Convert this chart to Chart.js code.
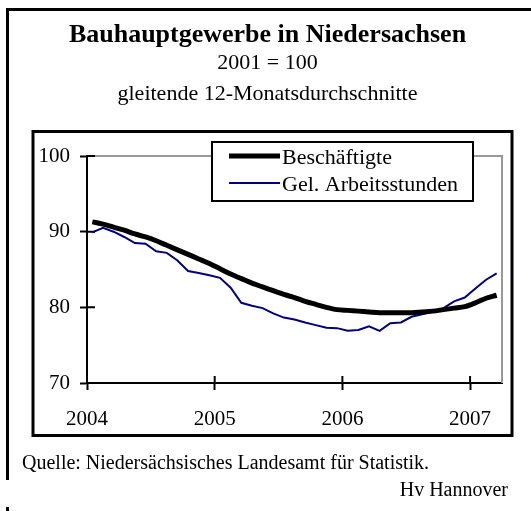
<!DOCTYPE html>
<html>
<head>
<meta charset="utf-8">
<script src="https://cdn.jsdelivr.net/npm/chart.js@4.4.1/dist/chart.umd.min.js"></script>
<style>
  body { margin: 0; background: #fff; }
  canvas { display: block; }
</style>
</head>
<body>
<canvas id="mycanvas" width="531" height="511"></canvas>
<script>
// monthly values, Jan 2004 .. Mar 2007 (gleitende 12-Monatsdurchschnitte, 2001 = 100)
var startYear = 2004;
var beschaeftigte = [91.3, 91.0, 90.6, 90.2, 89.7, 89.3, 88.8, 88.2, 87.6, 87.0, 86.4, 85.8,
                     85.1, 84.4, 83.8, 83.2, 82.7, 82.2, 81.7, 81.3, 80.8, 80.4, 80.0, 79.7,
                     79.6, 79.5, 79.4, 79.3, 79.3, 79.3, 79.3, 79.4, 79.5, 79.7, 79.9, 80.1,
                     80.6, 81.2, 81.6];
var arbeitsstunden = [89.9, 90.5, 90.0, 89.3, 88.5, 88.4, 87.4, 87.2, 86.2, 84.8, 84.55, 84.25,
                      83.9, 82.6, 80.6, 80.2, 79.9, 79.2, 78.65, 78.4, 78.0, 77.65, 77.3, 77.25,
                      76.9, 77.0, 77.5, 76.9, 77.9, 78.0, 78.75, 79.1, 79.4, 79.9, 80.8, 81.3,
                      82.5, 83.65, 84.5];
var yearTicks = [2004, 2005, 2006, 2007];
var valueTicks = [70, 80, 90, 100];
var seriesNames = ["Beschäftigte", "Gel. Arbeitsstunden"];

var serif = "'Liberation Serif', 'Times New Roman', serif";

function toPoints(arr) {
  var pts = [];
  for (var i in arr) {
    pts.push({ x: startYear + (Number(i) + 0.5) / 12, y: arr[i] });
  }
  return pts;
}

// frames, plot border, inner tick halves, legend box, source lines
var decor = {
  id: 'decor',
  beforeDraw: function(chart) {
    var c = chart.ctx;
    c.save();
    c.fillStyle = '#000';
    c.fillRect(6, 8, 525, 3);
    c.fillRect(6, 8, 3, 472);
    c.fillRect(6, 507, 3, 4);
    c.lineWidth = 3;
    c.strokeStyle = '#000';
    c.strokeRect(33, 131.5, 479, 304);
    c.restore();
  },
  beforeDatasetsDraw: function(chart) {
    var c = chart.ctx, a = chart.chartArea;
    c.save();
    c.strokeStyle = '#999';
    c.lineWidth = 2;
    c.beginPath();
    c.moveTo(a.left, a.top);
    c.lineTo(a.right, a.top);
    c.lineTo(a.right, a.bottom);
    c.stroke();
    c.strokeStyle = '#000';
    c.beginPath();
    valueTicks.forEach(function(v) {
      var y = chart.scales.y.getPixelForValue(v);
      c.moveTo(a.left, y);
      c.lineTo(a.left + 8, y);
    });
    yearTicks.forEach(function(v) {
      var x = chart.scales.x.getPixelForValue(v);
      c.moveTo(x, a.bottom);
      c.lineTo(x, a.bottom - 7);
    });
    c.stroke();
    c.restore();
  },
  afterDraw: function(chart) {
    var c = chart.ctx;
    c.save();
    // legend
    c.fillStyle = '#fff';
    c.fillRect(212, 142, 261, 59);
    c.strokeStyle = '#000';
    c.lineWidth = 2;
    c.strokeRect(212, 142, 261, 59);
    var rows = [156, 183];
    chart.data.datasets.forEach(function(ds, i) {
      c.strokeStyle = ds.borderColor;
      c.lineWidth = ds.borderWidth;
      c.beginPath();
      c.moveTo(229, rows[i]);
      c.lineTo(280, rows[i]);
      c.stroke();
      c.fillStyle = '#000';
      c.font = "22px " + serif;
      c.textBaseline = 'middle';
      c.textAlign = 'left';
      c.fillText(ds.label, 282, rows[i] + 2);
    });
    // source
    c.font = "20px " + serif;
    c.fillText("Quelle: Niedersächsisches Landesamt für Statistik.", 22, 464);
    c.textAlign = 'right';
    c.fillText("Hv Hannover", 508, 491);
    c.restore();
  }
};

var chartdata = {
  datasets: [
    {
      label: seriesNames[0],
      data: toPoints(beschaeftigte),
      borderColor: "#000000",
      backgroundColor: "#000000",
      borderWidth: 5,
      pointRadius: 0,
      tension: 0.3,
      fill: false
    },
    {
      label: seriesNames[1],
      data: toPoints(arbeitsstunden),
      borderColor: "#000080",
      backgroundColor: "#000080",
      borderWidth: 2,
      pointRadius: 0,
      tension: 0,
      fill: false
    }
  ]
};

var ctx = document.getElementById("mycanvas");

var LineGraph = new Chart(ctx, {
  type: 'line',
  data: chartdata,
  plugins: [decor],
  options: {
    responsive: false,
    animation: false,
    layout: { padding: { left: 33, right: 29, top: 0, bottom: 68 } },
    plugins: {
      legend: { display: false },
      tooltip: { enabled: false },
      title: {
        display: true,
        text: "Bauhauptgewerbe in Niedersachsen",
        color: '#000',
        font: { family: serif, size: 26, weight: 'bold', lineHeight: 1.0 },
        padding: { top: 22, bottom: 0 }
      },
      subtitle: {
        display: true,
        text: ["2001 = 100", "gleitende 12-Monatsdurchschnitte"],
        color: '#000',
        font: { family: serif, size: 22, lineHeight: 1.41 },
        padding: { top: 0, bottom: 46 }
      }
    },
    scales: {
      x: {
        type: 'linear',
        min: 2004,
        max: 2007.25,
        afterFit: function(s) { s.height = 60; },
        afterBuildTicks: function(s) { s.ticks = yearTicks.map(function(v) { return { value: v }; }); },
        ticks: {
          color: '#000',
          font: { family: serif, size: 21 },
          padding: 17,
          maxRotation: 0,
          callback: function(v) { return String(v); }
        },
        grid: { drawOnChartArea: false, drawTicks: true, tickLength: 7, tickWidth: 2, tickColor: '#000' },
        border: { color: '#000', width: 2 }
      },
      y: {
        min: 70,
        max: 100,
        afterFit: function(s) { s.width = 54; },
        afterBuildTicks: function(s) { s.ticks = valueTicks.map(function(v) { return { value: v }; }); },
        ticks: {
          color: '#000',
          font: { family: serif, size: 21 },
          padding: 10
        },
        grid: { drawOnChartArea: false, drawTicks: true, tickLength: 7, tickWidth: 2, tickColor: '#000' },
        border: { color: '#000', width: 2 }
      }
    }
  }
});
</script>
</body>
</html>
